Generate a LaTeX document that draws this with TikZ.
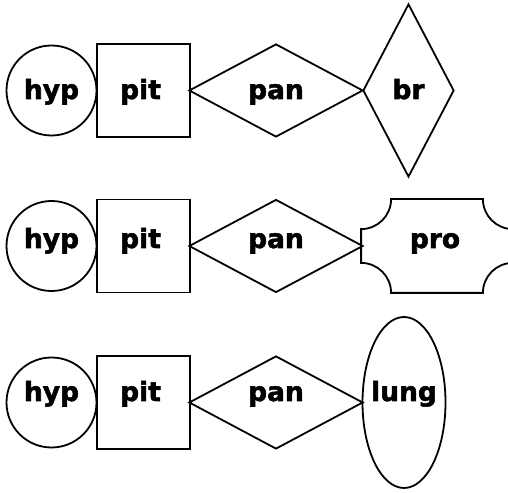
\documentclass[tikz,border=0pt]{standalone}
\usepackage{fontspec}
\setmainfont{DejaVu Sans}
\newfontfamily\lblfont{DejaVu Sans Bold}[FakeBold=2]
\usetikzlibrary{shapes.geometric,calc}
\tikzset{
  shp/.style={draw=black, line width=1.8pt, inner sep=0pt, font=\lblfont\fontsize{26.5}{30}\selectfont},
  rowA/.style={text height=20pt, text depth=3pt},
  rowB/.style={text height=12pt, text depth=8pt},
  rowC/.style={text height=8pt, text depth=11pt},
  hypc/.style={shp, circle, minimum size=90pt},
  pitsq/.style={shp, rectangle, minimum width=93pt, minimum height=93pt},
  pandia/.style={shp, diamond, minimum width=174pt, minimum height=93pt},
}
\begin{document}
\begin{tikzpicture}[x=1pt,y=1pt]
\useasboundingbox (0,0) rectangle (508,492);
\clip (0,0) rectangle (508,492);
% row 1
\node[hypc, rowA] (hyp1) at (51.5,401.5) {hyp};
\node[pitsq, rowA] (pit1) at (143.5,401.5) {\hspace*{-6pt}pit};
\node[pandia, rowA] (pan1) at (276,401.5) {pan};
\node[shp, diamond, rowA, minimum width=91pt, minimum height=173pt] (br1) at (408.5,401.5) {br};
% row 2
\node[hypc, rowB] (hyp2) at (51.5,246) {hyp};
\node[pitsq, rowB] (pit2) at (143.5,246) {\hspace*{-6pt}pit};
\node[pandia, rowB] (pan2) at (276,246) {pan};
\node[shp, draw=none, rectangle, rowB, minimum width=150pt, minimum height=92pt] (pro2) at (437,246) {\hspace*{-4pt}pro};
\draw[line width=1.8pt]
  ($(pro2.north west)+(30,0)$) -- ($(pro2.north east)+(-30,0)$)
  arc[start angle=180, end angle=270, radius=30]
  -- ($(pro2.south east)+(0,30)$)
  arc[start angle=90, end angle=180, radius=30]
  -- ($(pro2.south west)+(30,0)$)
  arc[start angle=0, end angle=90, radius=30]
  -- ($(pro2.north west)+(0,-30)$)
  arc[start angle=270, end angle=360, radius=30] -- cycle;
% row 3
\node[hypc, rowC] (hyp3) at (51.5,89.5) {hyp};
\node[pitsq, rowC] (pit3) at (143.5,89.5) {\hspace*{-6pt}pit};
\node[pandia, rowC] (pan3) at (276,89.5) {pan};
\node[shp, ellipse, rowC, inner xsep=-6pt, minimum width=83pt, minimum height=171pt] (lung3) at (404,89.5) {lung};
\end{tikzpicture}
\end{document}
